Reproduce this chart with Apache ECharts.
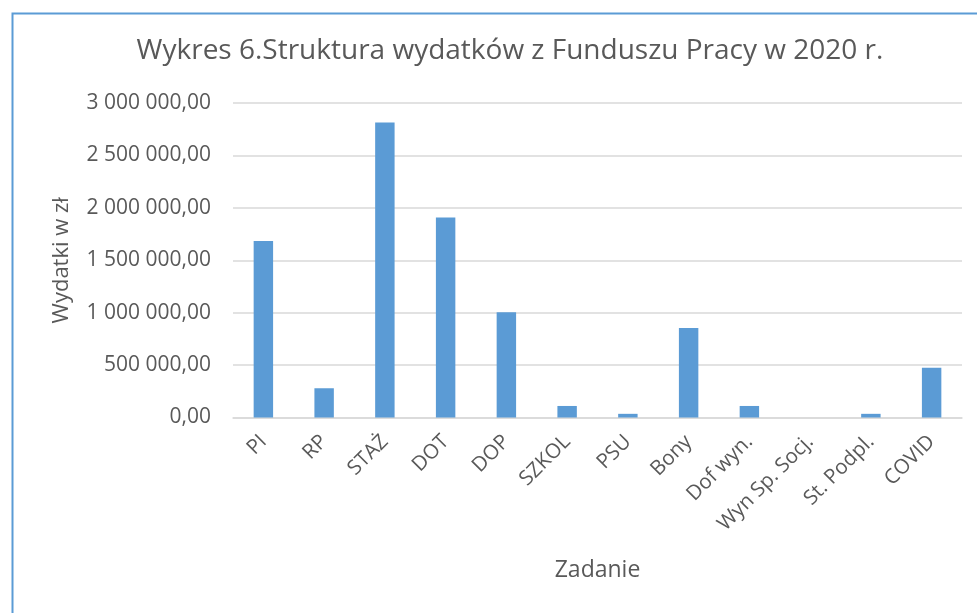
<!DOCTYPE html>
<html>
<head>
<meta charset="utf-8">
<script src="https://cdn.jsdelivr.net/npm/echarts@6/dist/echarts.min.js"></script>
<style>
html,body{margin:0;padding:0;background:#fff;}
#chart{width:977px;height:613px;}
</style>
</head>
<body>
<div id="chart"></div>
<script>
const categories = ["PI","RP","STAŻ","DOT","DOP","SZKOL","PSU","Bony","Dof wyn.","Wyn Sp. Socj.","St. Podpl.","COVID"];
const values = [1684000, 279000, 2814000, 1907000, 1004000, 110000, 35000, 854000, 110000, 0, 35000, 475000];
const titleText = "Wykres 6.Struktura wydatków z Funduszu Pracy w 2020 r.";
const yAxisName = "Wydatki w zł";
const xAxisName = "Zadanie";

function fmt(v){
  const parts = Math.round(v).toString().replace(/\B(?=(\d{3})+(?!\d))/g, " ");
  return parts + ",00";
}

const chart = echarts.init(document.getElementById('chart'));
const FONT = "Open Sans";
const TXT = "#595959";
chart.setOption({
  animation:false,
  backgroundColor:"#fff",
  graphic:[{
    type:'rect', left:10, top:11, shape:{x:0,y:0,width:1000,height:700},
    style:{fill:'none', stroke:'#5b9bd5', lineWidth:2}, silent:true
  }],
  title:{
    text:titleText, left:505, top:32, textAlign:'center',
    textStyle:{fontFamily:FONT, fontSize:28, fontWeight:'normal', color:TXT}
  },
  grid:{left:233, right:15, top:103, bottom:195.5, containLabel:false},
  xAxis:{
    type:'category', data:categories,
    name:xAxisName, nameLocation:'middle', nameGap:141,
    nameTextStyle:{fontFamily:FONT, fontSize:23, color:TXT},
    axisLine:{show:true, lineStyle:{color:'#d9d9d9', width:1.5}},
    axisTick:{show:false},
    axisLabel:{rotate:45, margin:21, fontFamily:FONT, fontSize:20.5, color:TXT, interval:0}
  },
  yAxis:{
    type:'value', min:0, max:3000000, interval:500000,
    name:yAxisName, nameLocation:'middle', nameGap:160, nameRotate:90,
    nameTextStyle:{fontFamily:FONT, fontSize:22, color:TXT},
    axisLine:{show:false}, axisTick:{show:false},
    splitLine:{lineStyle:{color:'#d9d9d9', width:1.5}},
    axisLabel:{margin:22, fontFamily:FONT, fontSize:21, color:TXT, formatter:fmt}
  },
  series:[{
    type:'bar', data:values, barWidth:'32%',
    itemStyle:{color:'#5b9bd5'}
  }]
});
</script>
</body>
</html>
